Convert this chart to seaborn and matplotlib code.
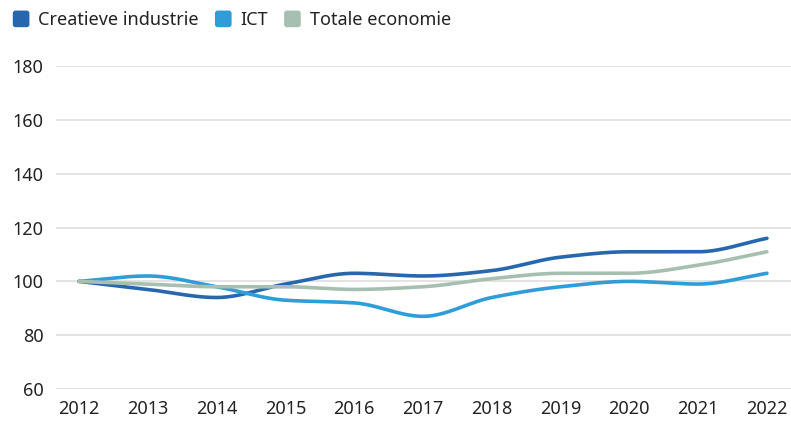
import numpy as np
import pandas as pd
import matplotlib
matplotlib.use("Agg")
import matplotlib.pyplot as plt
from matplotlib.patches import FancyBboxPatch
from matplotlib.legend_handler import HandlerPatch
import seaborn as sns

years = [2012, 2013, 2014, 2015, 2016, 2017, 2018, 2019, 2020, 2021, 2022]
creatieve_industrie = [100, 97, 94, 99, 103, 102, 104, 109, 111, 111, 116]
ict = [100, 102, 98, 93, 92, 87, 94, 98, 100, 99, 103]
totale_economie = [100, 99, 98, 98, 97, 98, 101, 103, 103, 106, 111]

series_names = ["Creatieve industrie", "ICT", "Totale economie"]
series_values = [creatieve_industrie, ict, totale_economie]
colors = ["#2767ae", "#2e9dd8", "#a7bfb0"]
y_ticks = [60, 80, 100, 120, 140, 160, 180]


def monotone_curve(x, y, n=40):
    """Monotone cubic (Fritsch-Carlson) curve through the given points."""
    x = np.asarray(x, float)
    y = np.asarray(y, float)
    h = np.diff(x)
    d = np.diff(y) / h
    m = np.zeros_like(y)
    m[0], m[-1] = d[0], d[-1]
    for i in range(1, len(y) - 1):
        if d[i - 1] * d[i] <= 0:
            m[i] = 0.0
        else:
            w1 = 2 * h[i] + h[i - 1]
            w2 = h[i] + 2 * h[i - 1]
            m[i] = (w1 + w2) / (w1 / d[i - 1] + w2 / d[i])
    xs, ys = [], []
    for i in range(len(x) - 1):
        t = np.linspace(0, 1, n, endpoint=(i == len(x) - 2))
        h00 = 2 * t**3 - 3 * t**2 + 1
        h10 = t**3 - 2 * t**2 + t
        h01 = -2 * t**3 + 3 * t**2
        h11 = t**3 - t**2
        xs.append(x[i] + t * h[i])
        ys.append(h00 * y[i] + h10 * h[i] * m[i] + h01 * y[i + 1] + h11 * h[i] * m[i + 1])
    return np.concatenate(xs), np.concatenate(ys)


sns.set_theme(style="white")
plt.rcParams["font.family"] = ["Noto Sans", "DejaVu Sans"]

frames = []
for name, vals in zip(series_names, series_values):
    cx, cy = monotone_curve(years, vals)
    frames.append(pd.DataFrame({"jaar": cx, "index": cy, "reeks": name}))
df = pd.concat(frames, ignore_index=True)

fig = plt.figure(figsize=(7.91, 4.21), dpi=100)
ax = fig.add_axes([0.0708, 0.076, 0.9292, 0.767])

sns.lineplot(data=df, x="jaar", y="index", hue="reeks", palette=colors,
             hue_order=series_names, linewidth=2.6, ax=ax, legend=False,
             sort=False, estimator=None)

ax.set_xlim(2011.666, 2022.35)
ax.set_ylim(60, 180)
ax.set_yticks(y_ticks)
ax.set_xticks(years)
ax.set_xticklabels([str(y) for y in years])
ax.grid(axis="y", color="#dedede", linewidth=1.2)
ax.grid(axis="x", visible=False)
for s in ax.spines.values():
    s.set_visible(False)
ax.tick_params(axis="both", length=0, labelsize=13, colors="#222222")
ax.tick_params(axis="y", pad=9)
ax.tick_params(axis="x", pad=8)
ax.set_xlabel("")
ax.set_ylabel("")


class RoundSquare(HandlerPatch):
    def create_artists(self, legend, orig_handle, xdescent, ydescent,
                       width, height, fontsize, trans):
        size = 12
        p = FancyBboxPatch((width - size, (height - size) / 2 - ydescent),
                           size, size, boxstyle="round,pad=0,rounding_size=2",
                           facecolor=orig_handle.get_facecolor(),
                           edgecolor="none", transform=trans)
        return [p]


handles = [plt.Rectangle((0, 0), 1, 1, facecolor=c) for c in colors]
fig.legend(handles, series_names, loc="upper left", bbox_to_anchor=(-0.005, 1.012),
           ncol=3, frameon=False, fontsize=13, handler_map={plt.Rectangle: RoundSquare()},
           handlelength=0.95, handletextpad=0.5, columnspacing=0.85,
           labelcolor="#222222")

fig.savefig("out.png", dpi=100)
